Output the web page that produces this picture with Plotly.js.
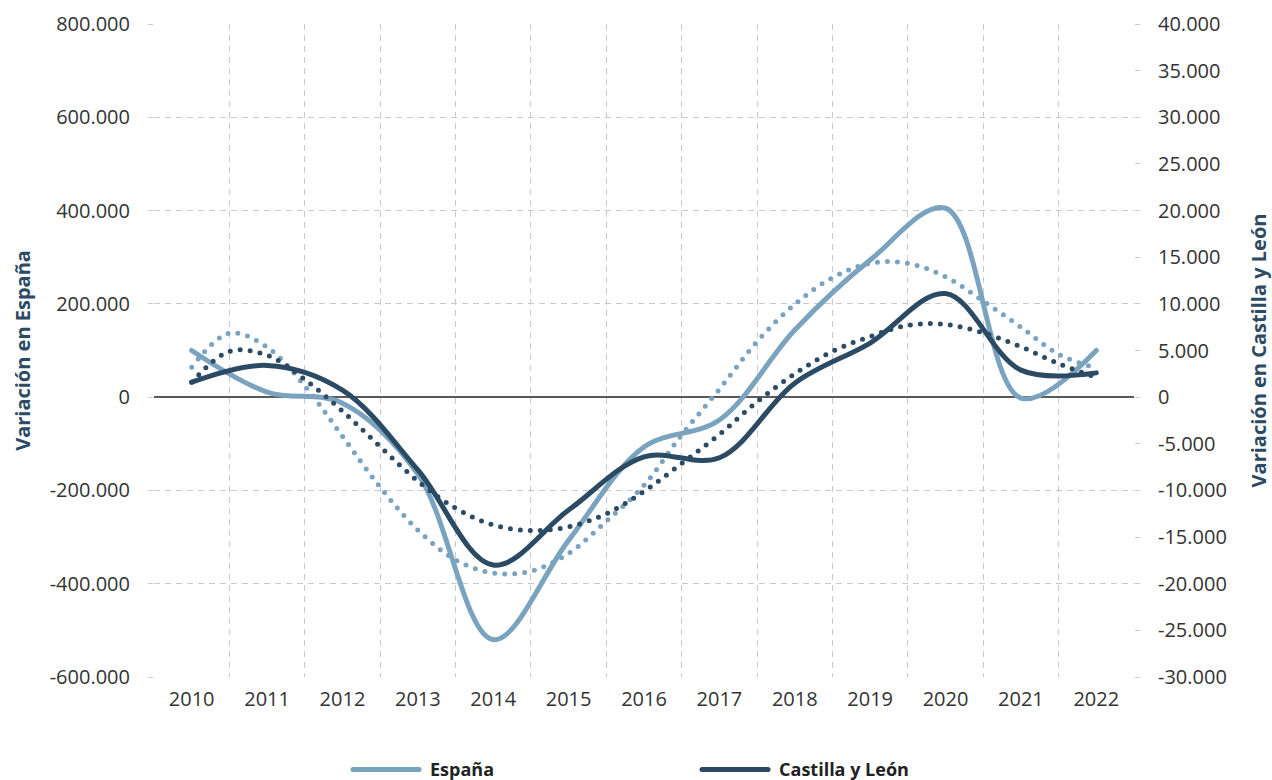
<!DOCTYPE html>
<html>
<head>
<meta charset="utf-8">
<script src="https://cdn.plot.ly/plotly-3.0.1.min.js"></script>
<style>
  html, body { margin: 0; padding: 0; background: #ffffff; }
  #chart { width: 1272px; height: 780px; }
  .scatterlayer .js-line, .legend .js-line { stroke-linecap: round; stroke-linejoin: round; }
  .legend .legendtext { transform: translateX(6px); }
</style>
</head>
<body>
<div id="chart"></div>
<script>
// ---- Data ----
const years = [2010, 2011, 2012, 2013, 2014, 2015, 2016, 2017, 2018, 2019, 2020, 2021, 2022];
const yearLabels = ['2010', '2011', '2012', '2013', '2014', '2015', '2016', '2017', '2018', '2019', '2020', '2021', '2022'];

// Annual variation, España (left axis)
const espana = [100000, 11000, -13000, -165000, -520000, -307000, -107000, -49000, 144000, 294000, 405000, -2000, 100000];
// Annual variation, Castilla y León (right axis)
const castilla = [1600, 3400, 750, -7800, -18000, -12100, -6400, -6500, 1500, 5800, 11100, 2900, 2600];

// Trend lines (dotted), read at half-year steps
const trendX = [2010, 2010.5, 2011, 2011.5, 2012, 2012.5, 2013, 2013.5, 2014, 2014.5, 2015, 2015.5, 2016,
                2016.5, 2017, 2017.5, 2018, 2018.5, 2019, 2019.5, 2020, 2020.5, 2021, 2021.5, 2022];
const espanaTrend = [64000, 137000, 107000, 24000, -84000, -193000, -285000, -349000, -377000, -373000, -335000, -266000, -189000,
                     -81000, 17000, 119000, 199000, 256000, 287000, 287000, 258000, 206000, 150000, 92000, 62000];
const castillaTrend = [1600, 4900, 4500, 1900, -1500, -5300, -9000, -11900, -13700, -14300, -13900, -12500, -10100,
                       -7100, -4000, -500, 2500, 4900, 6500, 7700, 7800, 6900, 5400, 3600, 2100];

// Tick labels
const leftTickVals = [-600000, -400000, -200000, 0, 200000, 400000, 600000, 800000];
const leftTickText = ['-600.000', '-400.000', '-200.000', '0', '200.000', '400.000', '600.000', '800.000'];
const rightTickVals = [-30000, -25000, -20000, -15000, -10000, -5000, 0, 5000, 10000, 15000, 20000, 25000, 30000, 35000, 40000];
const rightTickText = ['-30.000', '-25.000', '-20.000', '-15.000', '-10.000', '-5.000', '0', '5.000', '10.000', '15.000', '20.000', '25.000', '30.000', '35.000', '40.000'];

// ---- Styles ----
const lightBlue = '#7aa3bf';
const darkBlue = '#2b4a63';
const gridColor = '#c9c9c9';
const tickFont = { family: 'Open Sans, sans-serif', size: 20, color: '#333333' };
const titleFont = { family: 'Open Sans, sans-serif', size: 20, color: darkBlue, weight: 'bold' };

const traces = [
  {
    x: trendX, y: espanaTrend, yaxis: 'y', type: 'scatter', mode: 'lines',
    line: { color: lightBlue, width: 5, dash: '0px,10px', shape: 'spline', smoothing: 1 },
    showlegend: false, hoverinfo: 'skip'
  },
  {
    x: trendX, y: castillaTrend, yaxis: 'y2', type: 'scatter', mode: 'lines',
    line: { color: darkBlue, width: 5, dash: '0px,10px', shape: 'spline', smoothing: 1 },
    showlegend: false, hoverinfo: 'skip'
  },
  {
    x: years, y: espana, yaxis: 'y', type: 'scatter', mode: 'lines', name: 'España',
    line: { color: lightBlue, width: 5, shape: 'spline', smoothing: 1 }
  },
  {
    x: years, y: castilla, yaxis: 'y2', type: 'scatter', mode: 'lines', name: 'Castilla y León',
    line: { color: darkBlue, width: 5, shape: 'spline', smoothing: 1 }
  }
];

const layout = {
  width: 1272, height: 780,
  margin: { l: 154, r: 138, t: 24, b: 103, autoexpand: false },
  paper_bgcolor: '#ffffff', plot_bgcolor: '#ffffff',
  showlegend: true,
  legend: {
    orientation: 'h', x: 0.198, xanchor: 'left', y: -0.142, yanchor: 'middle',
    font: { family: 'Open Sans, sans-serif', size: 18, color: '#222222', weight: 'bold' },
    entrywidth: 268, entrywidthmode: 'pixels', itemwidth: 66, traceorder: 'normal'
  },
  xaxis: {
    type: 'linear', range: [2009.5, 2022.5], automargin: false,
    tickvals: years, ticktext: yearLabels, ticks: '', showgrid: false, zeroline: false, showline: false,
    tickfont: tickFont, ticklabelstandoff: 8,
    minor: { tick0: 2009.5, dtick: 1, showgrid: true, gridcolor: gridColor, gridwidth: 1, griddash: '6px,5px', ticks: '' }
  },
  yaxis: {
    range: [-600000, 800000], tickvals: leftTickVals, ticktext: leftTickText, automargin: false,
    showgrid: true, gridcolor: gridColor, gridwidth: 1, griddash: '6px,5px',
    zeroline: true, zerolinecolor: '#5a5a5a', zerolinewidth: 2,
    ticks: 'outside', ticklen: 5, tickcolor: gridColor, showline: false,
    tickfont: tickFont, ticklabelstandoff: 14,
    title: { text: 'Variación en España', font: titleFont, standoff: 13 }
  },
  yaxis2: {
    overlaying: 'y', side: 'right', range: [-30000, 40000], automargin: false,
    tickvals: rightTickVals, ticktext: rightTickText,
    showgrid: false, zeroline: false, showline: false,
    ticks: 'outside', ticklen: 5, tickcolor: gridColor,
    tickfont: tickFont, ticklabelstandoff: 14,
    title: { text: 'Variación en Castilla y León', font: titleFont, standoff: 28 }
  }
};

Plotly.newPlot('chart', traces, layout, { staticPlot: true, displayModeBar: false });
</script>
</body>
</html>
